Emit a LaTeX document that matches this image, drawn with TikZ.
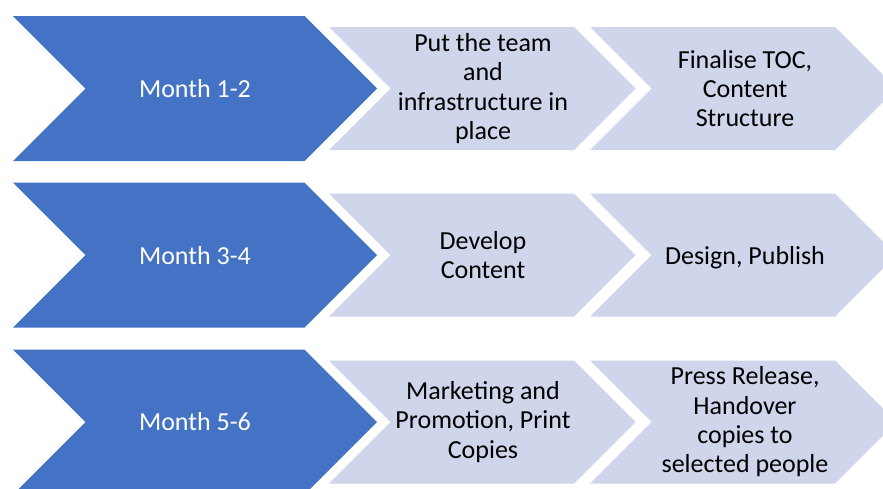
\documentclass[tikz,border=0pt]{standalone}
\usepackage{fontspec}
\setmainfont{Carlito}
\definecolor{phaseblue}{HTML}{4472C4}
\definecolor{tasktint}{HTML}{CFD5EA}
\tikzset{
  phasetext/.style={text=white, align=center, font=\fontsize{26}{29.3}\selectfont},
  tasktext/.style={text=black, align=center, font=\fontsize{26}{29.3}\selectfont},
}
% chevron: #1 fill, #2 left x, #3 shoulder x, #4 half height, #5 centre y
\newcommand\chevronshape[5]{%
  \fill[#1] (#2,#5-#4) -- (#3,#5-#4) -- (#3+#4,#5) -- (#3,#5+#4)
    -- (#2,#5+#4) -- (#2+#4,#5) -- cycle;}
\begin{document}
\begin{tikzpicture}[x=1pt,y=-1pt]
\useasboundingbox (0,0) rectangle (883,488);
\clip (0,0) rectangle (883,488);
\fill[white] (0,0) rectangle (883,488);

% row 1
\chevronshape{phaseblue}{13}{304.5}{72.5}{88.5}
\chevronshape{tasktint}{329}{574}{61.5}{88.5}
\chevronshape{tasktint}{590}{835}{61.5}{88.5}
\node[phasetext] (m12) at (195,88.5) {Month 1-2};
\node[tasktext] (team) at (483,88.5) {Put the team\\and\\infrastructure in\\place};
\node[tasktext] (toc) at (745,88.5) {Finalise TOC,\\Content\\Structure};

% row 2
\chevronshape{phaseblue}{13}{304.5}{72.5}{255.2}
\chevronshape{tasktint}{329}{574}{61.5}{255.2}
\chevronshape{tasktint}{590}{835}{61.5}{255.2}
\node[phasetext] (m34) at (195,255.2) {Month 3-4};
\node[tasktext] (dev) at (483,255.2) {Develop\\Content};
\node[tasktext] (pub) at (745,257.5) {Design, Publish};

% row 3
\chevronshape{phaseblue}{13}{304.5}{72.5}{422}
\chevronshape{tasktint}{329}{574}{61.5}{422}
\chevronshape{tasktint}{590}{835}{61.5}{422}
\node[phasetext] (m56) at (195,422) {Month 5-6};
\node[tasktext] (mkt) at (483,422) {Marketing and\\Promotion, Print\\Copies};
\node[tasktext] (press) at (745,422) {Press Release,\\Handover\\copies to\\selected people};
\end{tikzpicture}
\end{document}
